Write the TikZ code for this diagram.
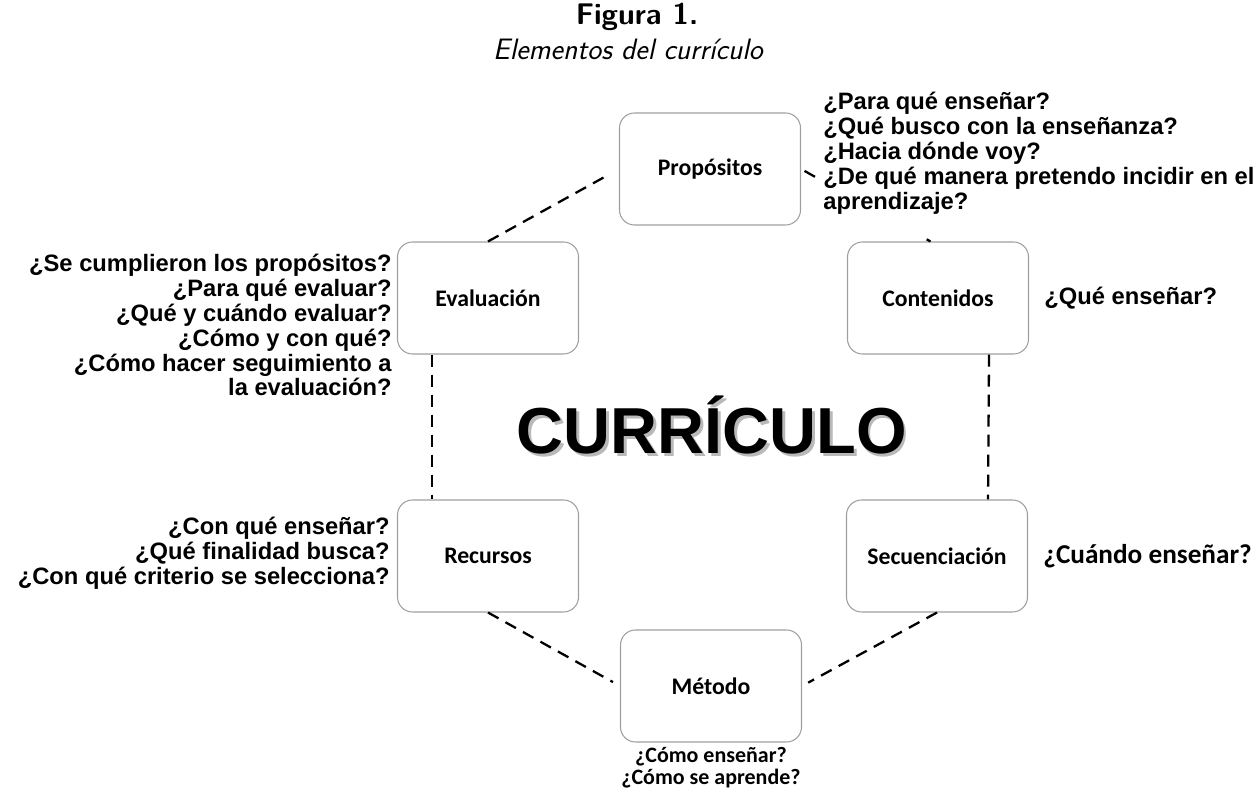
\documentclass[tikz,border=0pt]{standalone}
\usepackage{fontspec}
\newfontfamily\arialfont{Liberation Sans}
\newfontfamily\calibrifont{Carlito}
\usetikzlibrary{positioning}

\tikzset{
    elem/.style={draw=gray!75, line width=0.6pt, rounded corners=0.3cm,
        minimum width=3.62cm, minimum height=2.24cm,
        font=\calibrifont\bfseries\fontsize{13.5}{16}\selectfont},
    link/.style={line width=1.3pt, dash pattern=on 0.24cm off 0.16cm},
    ask/.style={fill=white, inner sep=0pt,
        font=\arialfont\bfseries\fontsize{13.5}{14.2}\selectfont},
    askc/.style={inner sep=0pt,
        font=\calibrifont\bfseries\fontsize{15.5}{14.2}\selectfont},
}

\begin{document}
\begin{tikzpicture}
    \useasboundingbox (0,0) rectangle (25.2,16.06);

    % title
    \node (fig) at (12.74,15.73) {\sffamily\bfseries\fontsize{17}{20}\selectfont Figura 1.};
    \node (tit) at (12.56,15.08) {\sffamily\itshape\fontsize{16.8}{20}\selectfont Elementos del currículo};

    % elements
    \node[elem] (prop) at (14.2,12.68) {Propósitos};
    \node[elem] (eval) at (9.76,10.1) {Evaluación};
    \node[elem] (cont) at (18.76,10.1) {Contenidos};
    \node[elem] (recu) at (9.76,4.94) {Recursos};
    \node[elem] (secu) at (18.74,4.94) {Secuenciación};
    \node[elem] (meto) at (14.22,2.34) {Método};

    % dashed ring
    \draw[link, shorten >=0.25cm] (eval.north) -- (prop.west);
    \draw[link, shorten <=0.08cm] (prop.east) -- ([xshift=-0.15cm]cont.north);
    \draw[link] ([xshift=0.7cm]eval.south west) -- ([xshift=0.7cm]recu.north west);
    \draw[link] ([xshift=-0.8cm]cont.south east) -- ([xshift=-0.8cm]secu.north east);
    \draw[link, shorten >=0.16cm] (recu.south) -- (meto.west);
    \draw[link, shorten >=0.14cm] (secu.south) -- (meto.east);

    % centre word with its shadow
    \node[text=gray!55] (curs) at (14.29,7.50) {\arialfont\bfseries\fontsize{37}{40}\selectfont CURRÍCULO};
    \node (cur) at (14.24,7.56) {\arialfont\bfseries\fontsize{37}{40}\selectfont CURRÍCULO};

    % questions
    \node[ask, anchor=west, align=left, inner xsep=0.15cm, inner ysep=0.45cm] (qprop) at (16.31,13.0)
        {¿Para qué enseñar?\\ ¿Qué busco con la enseñanza?\\ ¿Hacia dónde voy?\\
         ¿De qué manera pretendo incidir en el\\ aprendizaje?};
    \node[ask, anchor=east, align=right] (qeval) at (7.84,9.56)
        {¿Se cumplieron los propósitos?\\ ¿Para qué evaluar?\\ ¿Qué y cuándo evaluar?\\
         ¿Cómo y con qué?\\ ¿Cómo hacer seguimiento a\\ la evaluación?};
    \node[ask, right=0.3cm of cont] (qcont) {¿Qué enseñar?};
    \node[ask, anchor=east, align=right] (qrecu) at (7.8,5.0)
        {¿Con qué enseñar?\\ ¿Qué finalidad busca?\\ ¿Con qué criterio se selecciona?};
    \node[askc, right=0.3cm of secu] (qsecu) {¿Cuándo enseñar?};
    \node[askc, align=center, below=0.08cm of meto,
        font=\calibrifont\bfseries\fontsize{12.5}{12.6}\selectfont] (qmeto)
        {¿Cómo enseñar?\\ ¿Cómo se aprende?};
\end{tikzpicture}
\end{document}
